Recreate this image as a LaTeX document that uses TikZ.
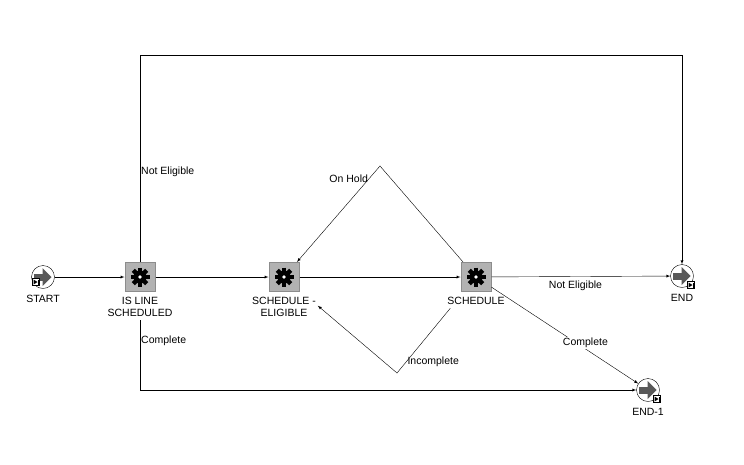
\documentclass[tikz,border=0pt]{standalone}
\usepackage{fontspec}
\setmainfont{Liberation Sans}
\usepackage{tikz}
\tikzset{F/.style={rectangle, draw=black!45, fill=black!30, line width=1pt, minimum width=30pt, minimum height=29pt, inner sep=0pt,
  path picture={
    \fill[black] (path picture bounding box.center) circle (6.5pt);
    \foreach \a in {0,45,90,135}
      \draw[black, line width=4.4pt] ([shift={(\a:9.5pt)}]path picture bounding box.center) -- ([shift={(\a+180:9.5pt)}]path picture bounding box.center);
    \fill[white] (path picture bounding box.center) circle (1.8pt);
  }}}
\tikzset{E/.style={circle, draw, fill=white, minimum size=23pt, inner sep=0pt,
  path picture={
    \fill[black!65] ([shift={(-9pt,-3.5pt)}]path picture bounding box.center) rectangle ([shift={(0pt,3.5pt)}]path picture bounding box.center);
    \fill[black!65] ([shift={(-0.5pt,-9pt)}]path picture bounding box.center) -- ([shift={(8.5pt,0pt)}]path picture bounding box.center) -- ([shift={(-0.5pt,9pt)}]path picture bounding box.center) -- cycle;
  }}}
\tikzset{K/.style={rectangle, draw, fill=white, minimum size=7pt, inner sep=0pt,
  path picture={
    \fill[black] ([shift={(-2.5pt,-2.5pt)}]path picture bounding box.center) -- ([shift={(1.5pt,0pt)}]path picture bounding box.center) -- ([shift={(-2.5pt,2.5pt)}]path picture bounding box.center) -- cycle;
    \draw[black] ([shift={(2pt,-2.5pt)}]path picture bounding box.center) -- ([shift={(2pt,2.5pt)}]path picture bounding box.center);
  }}}
\tikzset{T/.style={font=\fontsize{10.5}{12}\selectfont, align=center}}

\begin{document}
\begin{tikzpicture}[x=1pt,y=-1pt,>=latex]
\useasboundingbox (0,0) rectangle (744,464);

% activities
\node[E, label={[T,label distance=3pt]below:START}] (start) at (43,277) {};
\node[F, label={[T,label distance=2pt]below:IS LINE\\SCHEDULED}] (isl) at (140,277) {};
\node[F, label={[T,label distance=2pt]below:SCHEDULE -\\ELIGIBLE}] (se) at (284,277) {};
\node[F, label={[T,label distance=2pt]below:SCHEDULE}] (sch) at (476,277) {};
\node[E, label={[T,label distance=3pt]below:END}] (end) at (682,276) {};
\node[E, label={[T,label distance=3pt]below:END-1}] (end1) at (648,390) {};

% little marks on the icons
\node[K] (startk) at ([shift={(-7,5)}]start.center) {};
\node[K] (endk) at ([shift={(9,9)}]end.center) {};
\node[K] (end1k) at ([shift={(9,9)}]end1.center) {};

% bends
\coordinate (top) at (682,55);
\coordinate (bot) at (140,390);
\coordinate (oh) at (380,166);
\coordinate (ic) at (397,373);

% transitions
\draw[->] (start) -- (isl);
\draw[->] (isl) -- (se);
\draw[->] (se) -- (sch);
\draw[->] (sch) -- node[T,below,inner sep=4pt,pos=0.47]{Not Eligible} (end);
\draw[->] (isl.north) -- node[T,right,inner sep=1pt,pos=0.435]{Not Eligible} (isl |- top) -- (top) -- (end);
\draw[->,shorten <=28pt] (isl.south) -- node[T,right,inner sep=1pt,pos=0.5]{Complete} (bot) -- (end1);
\draw[->] (sch) -- (oh) -- node[T,left,inner sep=1pt,pos=0.13]{On Hold} (se);
\draw[->,shorten <=21pt,shorten >=24pt] (sch) -- node[T,right,inner sep=1pt,pos=0.86]{Incomplete} (ic) -- (se);
\draw[->] (sch) -- node[T,fill=white,inner sep=1pt,pos=0.64,yshift=6pt]{Complete} (end1);
\end{tikzpicture}
\end{document}
